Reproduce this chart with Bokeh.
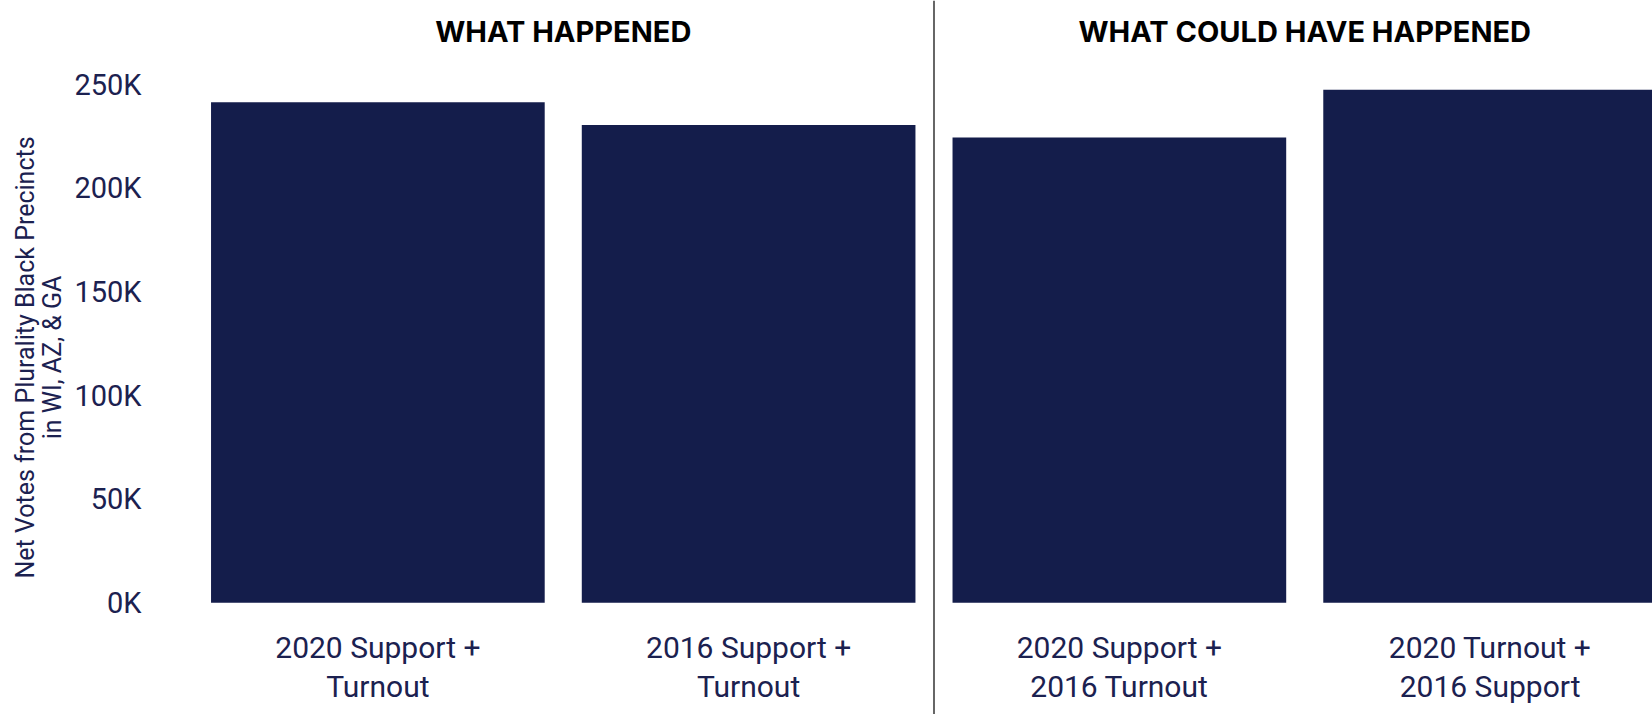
from bokeh.plotting import figure
from bokeh.models import Range1d, FixedTicker, CustomJSTickFormatter, Span, ColumnDataSource
from bokeh.core.properties import value
from bokeh.embed import file_html
from bokeh.resources import INLINE

# ---- data ----
categories = ["2020 Support +\nTurnout", "2016 Support +\nTurnout",
              "2020 Support +\n2016 Turnout", "2020 Turnout +\n2016 Support"]
net_votes = [241600, 230600, 224600, 247600]
group_titles = ["WHAT HAPPENED", "WHAT COULD HAVE HAPPENED"]
y_ticks = [0, 50000, 100000, 150000, 200000, 250000]

BAR = "#141d4b"
TXT = "#1b2150"

xs = list(range(len(categories)))
src = ColumnDataSource(dict(x=xs, top=net_votes, label=categories,
                            ly=[-31000] * len(categories)))
tsrc = ColumnDataSource(dict(x=[0.5, 2.5], y=[275700, 275700], t=group_titles))

p = figure(width=1652, height=714, output_backend="svg", toolbar_location=None,
           x_range=Range1d(-0.5, 3.438), y_range=Range1d(-53900, 290700),
           min_border_left=192, min_border_right=0, min_border_top=0, min_border_bottom=0)
p.outline_line_color = None
p.background_fill_color = "white"
p.border_fill_color = "white"
p.grid.visible = False
p.xaxis.visible = False

p.vbar(x="x", top="top", bottom=0, width=0.9, source=src, fill_color=BAR, line_color=None)

p.text(x="x", y="ly", text="label", source=src, text_align="center", text_baseline="middle",
       text_font=value("Roboto"), text_font_size="30px", text_color=TXT, text_line_height=1.13)
p.text(x="x", y="y", text="t", source=tsrc, text_align="center", text_baseline="middle",
       text_font=value("Inter"), text_font_style="bold", text_font_size="29px", text_color="#000000")

p.add_layout(Span(location=1.5, dimension="height", line_color="#666666", line_width=2))

ax = p.yaxis[0]
ax.ticker = FixedTicker(ticks=y_ticks)
ax.formatter = CustomJSTickFormatter(code="return (tick/1000).toFixed(0) + 'K';")
ax.axis_line_color = None
ax.major_tick_line_color = None
ax.minor_tick_line_color = None
ax.major_label_standoff = 45
ax.major_label_text_font = "Roboto"
ax.major_label_text_font_size = "29px"
ax.major_label_text_color = TXT
ax.axis_label = "Net Votes from Plurality Black Precincts\nin WI, AZ, & GA"
ax.axis_label_text_font = "Roboto"
ax.axis_label_text_font_style = "normal"
ax.axis_label_text_font_size = "25px"
ax.axis_label_text_line_height = 0.95
ax.axis_label_text_color = TXT
ax.axis_label_standoff = 4

open("out.html", "w").write(file_html(p, INLINE))
